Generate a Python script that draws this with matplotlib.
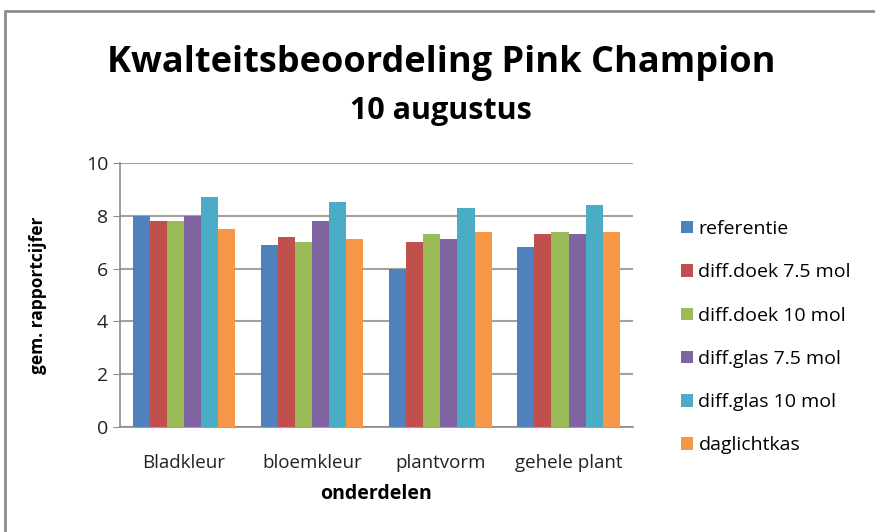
import matplotlib
matplotlib.use("Agg")
import matplotlib.pyplot as plt
from matplotlib.patches import Rectangle
import numpy as np

plt.rcParams['font.family'] = ['Open Sans', 'DejaVu Sans']

# data
categories = ["Bladkleur", "bloemkleur", "plantvorm", "gehele plant"]
series_names = ["referentie", "diff.doek 7.5 mol", "diff.doek 10 mol",
                "diff.glas 7.5 mol", "diff.glas 10 mol", "daglichtkas"]
referentie = [8.0, 6.9, 6.0, 6.8]
doek_75 = [7.8, 7.2, 7.0, 7.3]
doek_10 = [7.8, 7.0, 7.3, 7.4]
glas_75 = [8.0, 7.8, 7.1, 7.3]
glas_10 = [8.7, 8.5, 8.3, 8.4]
daglichtkas = [7.5, 7.1, 7.4, 7.4]
colors = ["#4F81BD", "#C0504D", "#9BBB59", "#8064A2", "#4BACC6", "#F79646"]

series = [referentie, doek_75, doek_10, glas_75, glas_10, daglichtkas]

fig = plt.figure(figsize=(8.75, 5.32), dpi=100)
# chart frame
fig.patches.append(Rectangle((0.006, -0.05), 1.2, 1.03, transform=fig.transFigure,
                             fill=False, edgecolor="#8c8c8c", linewidth=2))

ax = fig.add_axes([0.137, 0.197, 0.586, 0.497])
x = np.arange(len(categories))
w = 0.8 / len(series)
for i, (name, vals) in enumerate(zip(series_names, series)):
    ax.bar(x - 0.4 + w * (i + 0.5), vals, w, color=colors[i], label=name, zorder=3)

ax.set_xlim(-0.5, len(categories) - 0.5)
ax.set_ylim(0, 10)
ax.set_yticks(np.arange(0, 11, 2))
ax.set_xticks(x)
ax.set_xticklabels(categories, fontsize=13.5, color="#222222")
ax.tick_params(axis='y', labelsize=14, length=5, color="#8c8c8c", labelcolor="#222222")
ax.tick_params(axis='x', length=0, pad=19)
ax.grid(axis='y', color="#a8a09c", linewidth=1.5, zorder=0)
for s in ["top", "right"]:
    ax.spines[s].set_visible(False)
for s in ["left", "bottom"]:
    ax.spines[s].set_color("#8c8c8c")
    ax.spines[s].set_linewidth(1.2)

ax.set_xlabel("onderdelen", fontsize=14, fontweight="bold", labelpad=9)
ax.set_ylabel("gem. rapportcijfer", fontsize=12.5, fontweight="bold", labelpad=28)

fig.text(0.504, 0.882, "Kwalteitsbeoordeling Pink Champion", ha="center", va="center",
         fontsize=26, fontweight="bold")
fig.text(0.504, 0.792, "10 augustus", ha="center", va="center",
         fontsize=22, fontweight="bold")

ax.legend(loc="center left", bbox_to_anchor=(1.06, 0.34), frameon=False,
          fontsize=14, handlelength=0.6, handleheight=0.6, handletextpad=0.3,
          labelspacing=1.3)

fig.savefig("out.png", dpi=100)
